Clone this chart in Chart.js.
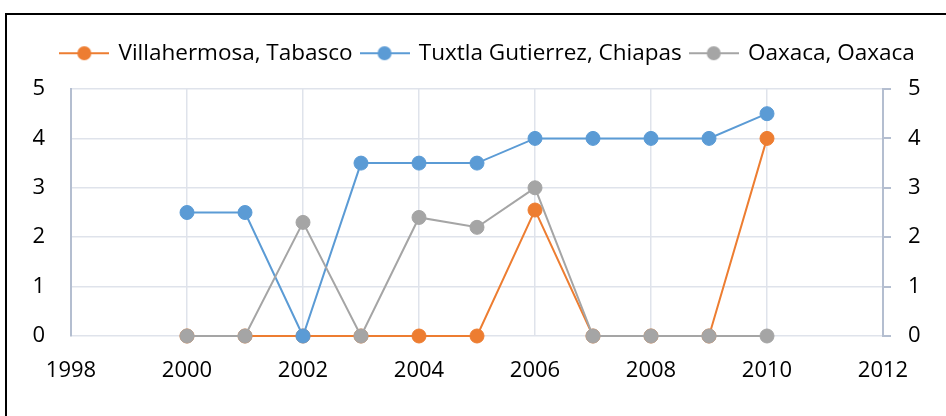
<!DOCTYPE html>
<html><head><meta charset="utf-8">
<script src="https://cdn.jsdelivr.net/npm/chart.js@4.4.1/dist/chart.umd.min.js"></script>
<style>
html,body{margin:0;padding:0;background:#fff;overflow:hidden;width:946px;height:416px}
#wrap{position:absolute;left:0;top:0;width:946px;height:416px}
#frame{position:absolute;left:5px;top:13px;width:1000px;height:500px;border:2px solid #000;box-sizing:border-box;pointer-events:none}
</style></head><body>
<div id="wrap"><canvas id="c" width="946" height="416"></canvas></div>
<div id="frame"></div>
<script>
const years = [2000, 2001, 2002, 2003, 2004, 2005, 2006, 2007, 2008, 2009, 2010];
const villahermosa = [0, 0, 0, 0, 0, 0, 2.55, 0, 0, 0, 4];
const tuxtla = [2.5, 2.5, 0, 3.5, 3.5, 3.5, 4, 4, 4, 4, 4.5];
const oaxaca = [0, 0, 2.3, 0, 2.4, 2.2, 3, 0, 0, 0, 0];
const seriesNames = ['Villahermosa, Tabasco', 'Tuxtla Gutierrez, Chiapas', 'Oaxaca, Oaxaca'];
const xTicks = [1998, 2000, 2002, 2004, 2006, 2008, 2010, 2012];
const yTicks = [0, 1, 2, 3, 4, 5];

const colors = ['#ED7D31', '#5B9BD5', '#A5A5A5'];
const gridColor = '#DFE3EB';
const axisColor = '#B4BED0';
const FONT = 'Open Sans';

function makeIcon(color) {
  const c = document.createElement('canvas');
  c.width = 50; c.height = 16;
  const g = c.getContext('2d');
  g.strokeStyle = color; g.lineWidth = 2;
  g.beginPath(); g.moveTo(0, 8); g.lineTo(50, 8); g.stroke();
  g.fillStyle = color;
  g.beginPath(); g.arc(25, 8, 7, 0, Math.PI * 2); g.fill();
  return c;
}
const icons = colors.map(makeIcon);

function toPoints(vals) { return years.map((y, i) => ({x: y, y: vals[i]})); }

const allSeries = [villahermosa, tuxtla, oaxaca];
const datasets = allSeries.map((vals, i) => ({
  label: seriesNames[i],
  data: toPoints(vals),
  borderColor: colors[i],
  backgroundColor: colors[i],
  pointBackgroundColor: colors[i],
  pointBorderColor: colors[i],
  borderWidth: 2,
  pointRadius: 7,
  pointHoverRadius: 7,
  pointBorderWidth: 1,
  tension: 0,
  clip: false,
  yAxisID: 'y',
  order: 3 - i
}));

const legendSpacer = {
  id: 'legendSpacer',
  beforeInit(chart) {
    const origFit = chart.legend.fit;
    chart.legend.fit = function () {
      origFit.call(this);
      this.height = 56;
    };
  }
};

new Chart(document.getElementById('c'), {
  type: 'line',
  data: { datasets },
  plugins: [legendSpacer],
  options: {
    responsive: false,
    animation: false,
    events: [],
    layout: { padding: { top: 33, left: 30, right: 0, bottom: 0 } },
    plugins: {
      tooltip: { enabled: false },
      legend: {
        position: 'top',
        align: 'center',
        labels: {
          usePointStyle: true,
          pointStyleWidth: 46,
          padding: 9,
          color: '#000',
          font: { family: FONT, size: 22.5 },
          sort: (a, b) => a.datasetIndex - b.datasetIndex,
          generateLabels(chart) {
            const items = Chart.defaults.plugins.legend.labels.generateLabels(chart);
            items.forEach(it => { it.pointStyle = icons[it.datasetIndex]; });
            return items;
          }
        }
      }
    },
    scales: {
      x: {
        type: 'linear',
        min: xTicks[0],
        max: xTicks[xTicks.length - 1],
        afterBuildTicks: s => { s.ticks = xTicks.map(v => ({ value: v })); },
        afterFit: s => { s.height = 80; },
        grid: {
          color: ctx => (ctx.tick && (ctx.tick.value === xTicks[0] || ctx.tick.value === xTicks[xTicks.length - 1])) ? axisColor : gridColor,
          lineWidth: ctx => (ctx.tick && (ctx.tick.value === xTicks[0] || ctx.tick.value === xTicks[xTicks.length - 1])) ? 2 : 1.5,
          drawTicks: false
        },
        border: { display: false },
        ticks: {
          padding: 22,
          color: '#000',
          font: { family: FONT, size: 22 },
          maxRotation: 0,
          autoSkip: false,
          callback: v => String(v)
        }
      },
      y: {
        position: 'left',
        min: yTicks[0],
        max: yTicks[yTicks.length - 1],
        afterBuildTicks: s => { s.ticks = yTicks.map(v => ({ value: v })); },
        afterFit: s => { s.width = 41; },
        grid: { color: gridColor, drawTicks: false, lineWidth: 1.5 },
        border: { display: true, color: axisColor, width: 2 },
        ticks: {
          padding: 26,
          color: '#000',
          font: { family: FONT, size: 22 },
          callback: v => String(v)
        }
      },
      y2: {
        position: 'right',
        min: yTicks[0],
        max: yTicks[yTicks.length - 1],
        afterBuildTicks: s => { s.ticks = yTicks.map(v => ({ value: v })); },
        afterFit: s => { s.width = 63; },
        grid: { drawOnChartArea: false, drawTicks: true, tickLength: 8, color: axisColor, lineWidth: 2 },
        border: { display: true, color: axisColor, width: 2 },
        ticks: {
          padding: 17,
          color: '#000',
          font: { family: FONT, size: 22 },
          callback: v => String(v)
        }
      }
    }
  }
});
</script>
</body></html>
